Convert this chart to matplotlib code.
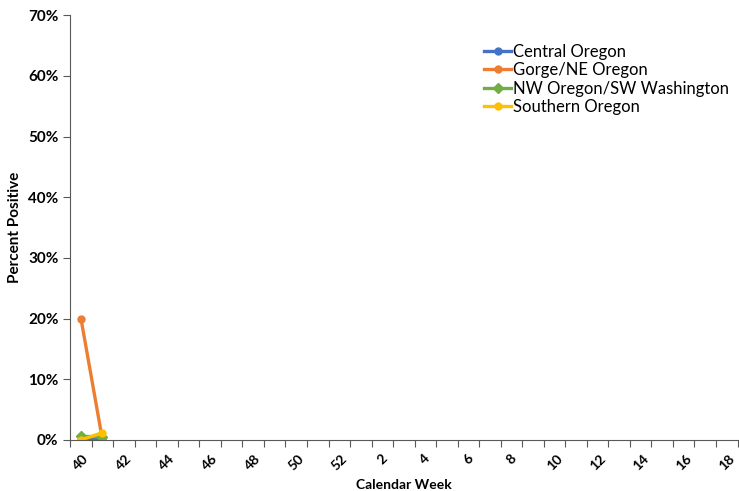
import numpy as np
import matplotlib.pyplot as plt
from matplotlib.ticker import PercentFormatter

weeks = list(range(40, 53)) + list(range(1, 19))
central = [0.0, 0.3]
gorge = [20.0, 0.0]
nw = [0.6, 0.5]
southern = [0.0, 1.2]

series = [
    ("Central Oregon", central, "#4472C4", "o"),
    ("Gorge/NE Oregon", gorge, "#ED7D31", "o"),
    ("NW Oregon/SW Washington", nw, "#70AD47", "D"),
    ("Southern Oregon", southern, "#FFC000", "o"),
]

plt.rcParams['font.family'] = ['Lato', 'DejaVu Sans']

fig = plt.figure(figsize=(7.39, 4.91), dpi=100)
ax = fig.add_axes([0.095, 0.104, 0.903, 0.865])

x = np.arange(len(weeks))
for name, vals, color, marker in series:
    ax.plot(x[:len(vals)], vals, color=color, marker=marker, lw=2.4,
            markersize=5, label=name)

ax.set_xlim(-0.5, len(weeks) - 0.5)
ax.set_ylim(0, 70)
ax.yaxis.set_major_formatter(PercentFormatter(decimals=0))
ax.set_yticks(range(0, 71, 10))

ax.set_xticks(np.arange(-0.5, len(weeks), 1), minor=False)
ax.set_xticklabels([])
ax.set_xticks(x[::2], minor=True)
ax.set_xticklabels([str(w) for w in weeks[::2]], minor=True, rotation=45,
                   fontweight='bold', fontsize=10)
ax.tick_params(axis='x', which='major', length=5, direction='out', color='#595959')
ax.tick_params(axis='x', which='minor', length=0, pad=9)
ax.tick_params(axis='y', length=5, labelsize=11, color='#595959')
for lbl in ax.get_yticklabels():
    lbl.set_fontweight('bold')

for s in ['top', 'right']:
    ax.spines[s].set_visible(False)
for s in ['left', 'bottom']:
    ax.spines[s].set_color('#595959')

ax.set_xlabel("Calendar Week", fontweight='bold', fontsize=10, va='center')
ax.xaxis.set_label_coords(0.5, -0.106)
ax.set_ylabel("Percent Positive", fontweight='bold', fontsize=11)

ax.legend(loc='upper left', bbox_to_anchor=(0.598, 0.968), frameon=False,
          fontsize=12, handlelength=1.6, handletextpad=0.1, labelspacing=0.15)

fig.savefig("out.png", dpi=100)
